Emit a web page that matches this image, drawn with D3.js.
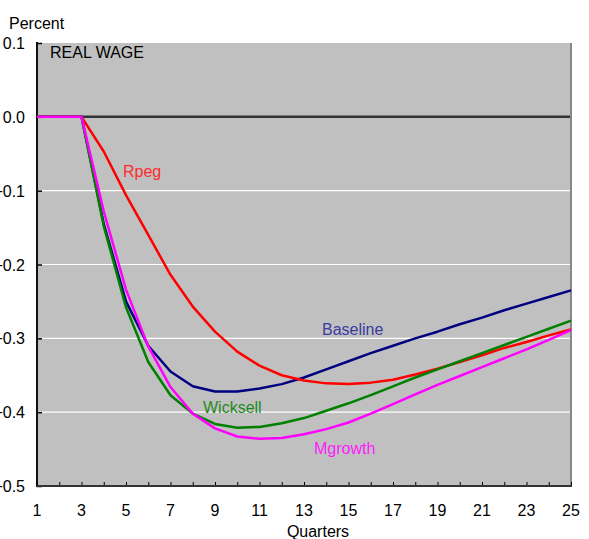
<!DOCTYPE html>
<html><head><meta charset="utf-8">
<script src="https://cdn.jsdelivr.net/npm/d3@7"></script>
<style>body{margin:0;background:#fff;} text{font-family:Arial,"Liberation Sans",sans-serif;}</style>
</head><body>
<svg id="c" width="589" height="539"></svg>
<script>
const quarters = d3.range(1, 26);
const baseline = [0,0,0,-0.145,-0.250,-0.310,-0.345,-0.365,-0.372,-0.372,-0.368,-0.362,-0.353,-0.342,-0.331,-0.320,-0.310,-0.300,-0.291,-0.281,-0.272,-0.262,-0.253,-0.244,-0.235];
const wicksell = [0,0,0,-0.148,-0.258,-0.332,-0.377,-0.402,-0.416,-0.421,-0.420,-0.415,-0.408,-0.398,-0.388,-0.377,-0.365,-0.353,-0.342,-0.331,-0.320,-0.309,-0.298,-0.287,-0.276];
const mgrowth = [0,0,0,-0.128,-0.234,-0.311,-0.366,-0.402,-0.422,-0.433,-0.436,-0.435,-0.430,-0.423,-0.414,-0.402,-0.389,-0.376,-0.363,-0.351,-0.339,-0.327,-0.315,-0.302,-0.289];
const rpeg = [0,0,0,-0.047,-0.106,-0.160,-0.214,-0.257,-0.291,-0.318,-0.337,-0.350,-0.357,-0.361,-0.362,-0.360,-0.356,-0.349,-0.341,-0.332,-0.323,-0.313,-0.305,-0.296,-0.288];
const yTicks = [0.1, 0.0, -0.1, -0.2, -0.3, -0.4, -0.5];
const xLabels = [1,3,5,7,9,11,13,15,17,19,21,23,25];

const series = [
  {name:"Baseline", values: baseline, color:"#000080", label:"#3a3aa0", lx:322, ly:335},
  {name:"Rpeg", values: rpeg, color:"#ff0000", label:"#ff2a2a", lx:123, ly:177},
  {name:"Wicksell", values: wicksell, color:"#008000", label:"#1e8a1e", lx:203, ly:413},
  {name:"Mgrowth", values: mgrowth, color:"#ff00ff", label:"#ff1aff", lx:314, ly:454}
];

const svg = d3.select("#c");
const L = 37, R = 571, T = 43, B = 486;
const x = d3.scaleLinear().domain([1,25]).range([L,R]);
const y = d3.scaleLinear().domain([-0.5,0.1]).range([B,T]);

svg.append("rect").attr("x",L).attr("y",T).attr("width",R-L).attr("height",B-T).attr("fill","#c0c0c0");

svg.selectAll(".grid").data([-0.1,-0.2,-0.3,-0.4]).enter().append("line")
  .attr("x1",L).attr("x2",R).attr("y1",d=>y(d)).attr("y2",d=>y(d))
  .attr("stroke","#fff").attr("stroke-width",1.2);

svg.append("line").attr("x1",L).attr("x2",R).attr("y1",y(0)).attr("y2",y(0))
  .attr("stroke","#333").attr("stroke-width",2.5);

svg.append("line").attr("x1",R).attr("x2",R).attr("y1",T).attr("y2",B)
  .attr("stroke","#888").attr("stroke-width",2);

const yAxis = d3.axisRight(y).tickValues(yTicks).tickSize(5).tickFormat("");
const gy = svg.append("g").attr("transform",`translate(${L},0)`).call(yAxis);
gy.select(".domain").remove();
gy.selectAll(".tick line").attr("stroke","#000").attr("stroke-width",1.5);
svg.append("line").attr("x1",L).attr("x2",L).attr("y1",T-1).attr("y2",B+1).attr("stroke","#111").attr("stroke-width",2);

svg.selectAll(".ylab").data(yTicks).enter().append("text")
  .attr("x",25).attr("y",d=>y(d)+6).attr("text-anchor","end").attr("font-size",16).attr("fill","#000")
  .text(d=>d3.format(".1f")(d));

const xAxis = d3.axisTop(x).tickValues(quarters).tickSize(4).tickFormat("");
const gx = svg.append("g").attr("transform",`translate(0,${B})`).call(xAxis);
gx.select(".domain").remove();
gx.selectAll(".tick line").attr("stroke","#000").attr("stroke-width",1);
svg.append("line").attr("x1",L).attr("x2",R+1).attr("y1",B).attr("y2",B).attr("stroke","#333").attr("stroke-width",2);

svg.selectAll(".xlab").data(xLabels).enter().append("text")
  .attr("x",d=>x(d)).attr("y",516).attr("text-anchor","middle").attr("font-size",16).attr("fill","#000")
  .text(d=>d);

svg.append("text").attr("x",318).attr("y",537).attr("text-anchor","middle").attr("font-size",16).text("Quarters");
svg.append("text").attr("x",9).attr("y",29).attr("font-size",16).text("Percent");
svg.append("text").attr("x",50).attr("y",58).attr("font-size",16).text("REAL WAGE");

const line = d3.line().x((d,i)=>x(quarters[i])).y(d=>y(d));
series.forEach(s=>{
  svg.append("path").datum(s.values).attr("d",line).attr("fill","none")
    .attr("stroke",s.color).attr("stroke-width",2.5).attr("stroke-linejoin","round");
  svg.append("text").attr("x",s.lx).attr("y",s.ly).attr("font-size",16).attr("fill",s.label).text(s.name);
});
</script>
</body></html>
